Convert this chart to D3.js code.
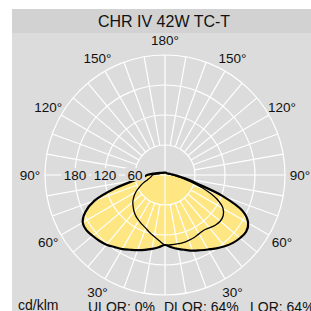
<!DOCTYPE html>
<html>
<head>
<meta charset="utf-8">
<script src="https://cdn.jsdelivr.net/npm/d3@7"></script>
<style>
  body { margin: 0; background: #fff; }
  text { font-family: "Liberation Sans", Arial, sans-serif; fill: #111; }
</style>
</head>
<body>
<svg width="311" height="311"></svg>
<script>
// gamma angles (deg from nadir) and luminous intensity values in cd/klm
var gammas = [0,5,10,15,20,25,30,35,40,45,50,55,60,65,70,75,80,85,90,95,100,110,120,130,140,150,160,170,180];

// C0-C180 plane (right half / left half)
var planeC0   = [140,145,150,155,161,166,172,179,186,192,196,198,192,172,122,66,42,26,19,14,11,8,6,5,5,5,5,5,5];
var planeC180 = [140,145,150,155,160,165,171,176,182,186,189,192,190,176,150,104,62,42,36,26,20,12,9,7,6,5,5,5,5];
// C90-C270 plane
var planeC90  = [140,140,140,140,139,138,136,135,138,142,144,142,134,115,86,54,35,24,17,12,9,7,6,5,5,5,5,5,5];
var planeC270 = [140,132,125,119,113,109,105,101,96,90,84,76,67,56,46,36,30,27,25,18,13,9,7,6,5,5,5,5,5];

var ringValues = [60, 120, 180, 240];
var ringLabels = [60, 120, 180];
var angleLabels = [30, 60, 90, 120, 150];

var title = "CHR IV 42W TC-T";
var unit = "cd/klm";
var ratios = ["ULOR: 0%", "DLOR: 64%", "LOR: 64%"];

var svg = d3.select('svg'),
    cx = 165, cy = 175, R = 120;

var rScale = d3.scaleLinear().domain([0, 240]).range([0, R]);
var rad = function(deg) { return deg * Math.PI / 180; };

// panels
svg.append('rect').attr('x', 12).attr('y', 9).attr('width', 299).attr('height', 302).attr('fill', '#dcdcdc');
svg.append('rect').attr('x', 12).attr('y', 9).attr('width', 299).attr('height', 24).attr('fill', '#d2d2d2');
svg.append('text').attr('x', 164).attr('y', 27).attr('text-anchor', 'middle')
    .style('font-size', '16px').text(title);

var g = svg.append('g').attr('transform', 'translate(' + cx + ',' + cy + ')');

// build closed polygon: right half going up, left half coming down
function planePoints(right, left) {
    var pts = [];
    gammas.forEach(function(gm, i) { pts.push([Math.PI - rad(gm), rScale(right[i])]); });
    for (var i = gammas.length - 2; i > 0; i--) pts.push([Math.PI + rad(gammas[i]), rScale(left[i])]);
    return pts;
}

var line = d3.lineRadial().curve(d3.curveCatmullRomClosed.alpha(0.5));
var ptsA = planePoints(planeC0, planeC180);
var ptsB = planePoints(planeC90, planeC270);

g.append('path').attr('d', line(ptsA)).attr('fill', '#fee682');
g.append('path').attr('d', line(ptsB)).attr('fill', '#fee682');

// grid
var grid = g.append('g').attr('stroke', '#fff').attr('stroke-width', 1.2).attr('fill', 'none');
grid.selectAll('circle').data(ringValues).enter().append('circle')
    .attr('r', function(d) { return rScale(d); });
d3.range(0, 360, 10).forEach(function(a) {
    var r0 = (a % 90 === 0) ? 0 : rScale(60);
    grid.append('line')
        .attr('x1', r0 * Math.sin(rad(a))).attr('y1', -r0 * Math.cos(rad(a)))
        .attr('x2', R * Math.sin(rad(a))).attr('y2', -R * Math.cos(rad(a)));
});

// curves
g.append('path').attr('d', line(ptsA)).attr('fill', 'none').attr('stroke', '#000').attr('stroke-width', 2.2);
g.append('path').attr('d', line(ptsB)).attr('fill', 'none').attr('stroke', '#000').attr('stroke-width', 1.3);

// ring value labels on left horizontal axis
ringLabels.forEach(function(v) {
    var x = -rScale(v);
    var w = String(v).length * 7.5 + 5;
    g.append('rect').attr('x', x - w / 2).attr('y', -7).attr('width', w).attr('height', 13).attr('fill', '#dcdcdc');
    g.append('text').attr('x', x).attr('y', 0).attr('dy', '0.36em').attr('text-anchor', 'middle')
        .style('font-size', '13.5px').text(v);
});

// angle labels
var labR = 135;
g.append('text').attr('x', 0).attr('y', -labR).attr('dy', '0.36em').attr('text-anchor', 'middle')
    .style('font-size', '13.5px').text('180°');
angleLabels.forEach(function(a) {
    [-1, 1].forEach(function(s) {
        g.append('text')
            .attr('x', s * labR * Math.sin(rad(a)))
            .attr('y', labR * Math.cos(rad(a)))
            .attr('dy', '0.36em').attr('text-anchor', 'middle')
            .style('font-size', '13.5px').text(a + '°');
    });
});

// footer
svg.append('text').attr('x', 18).attr('y', 310).style('font-size', '14px').text(unit);
var fx = [88, 164, 250];
ratios.forEach(function(t, i) {
    svg.append('text').attr('x', fx[i]).attr('y', 312).style('font-size', '14px').text(t);
});
</script>
</body>
</html>
